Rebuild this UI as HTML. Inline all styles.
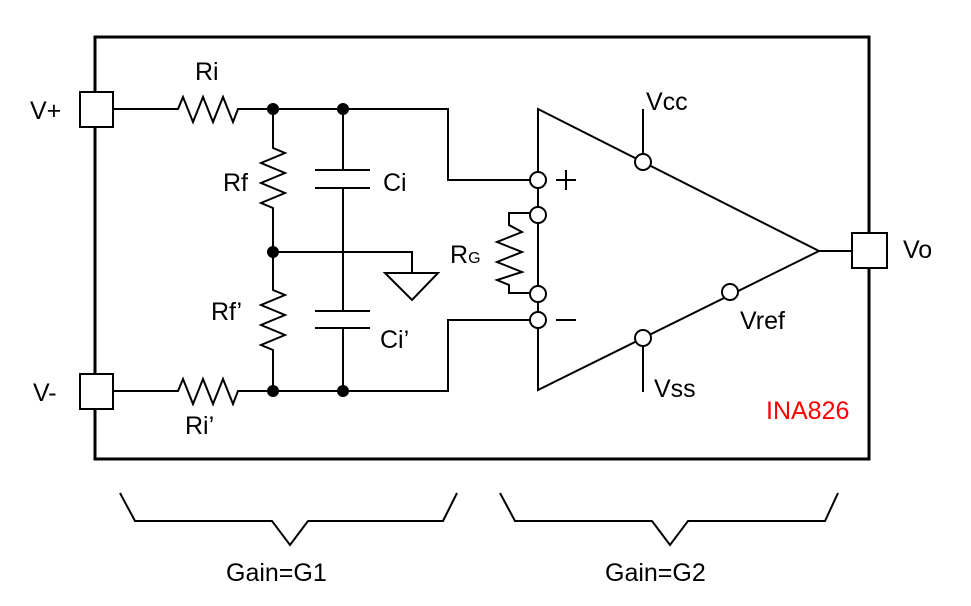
<!DOCTYPE html>
<html><head><meta charset="utf-8"><style>
html,body{margin:0;padding:0;background:#fff;}
svg{display:block;}
text{font-family:"Liberation Sans",Arial,sans-serif;font-size:25px;fill:#000;}
</style></head><body>
<svg width="971" height="606" viewBox="0 0 971 606" xmlns="http://www.w3.org/2000/svg">
<g fill="none" stroke="#000" stroke-width="2">
<rect x="95" y="37" width="774" height="422" stroke-width="3"/>
<rect x="80" y="92" width="33" height="35" fill="#fff"/>
<rect x="80" y="374" width="33" height="35" fill="#fff"/>
<rect x="852" y="233" width="35" height="35" fill="#fff"/>
<polyline points="113,109 178,109 183,97 193,122 203,97 213,122 223,97 233,122 238,109 448,109 448,180 530,180"/>
<polyline points="113,391 178,391 183,379 193,404 203,379 213,404 223,379 233,404 238,391 448,391 448,320 530,320"/>
<polyline points="273,109 273,148 285,153 261,163 285,173 261,183 285,193 261,203 273,208 273,290 285,295 261,305 285,315 261,325 285,335 261,345 273,350 273,391"/>
<line x1="343" y1="109" x2="343" y2="170"/>
<line x1="315" y1="170" x2="370" y2="170"/>
<line x1="315" y1="188" x2="370" y2="188"/>
<line x1="343" y1="188" x2="343" y2="311"/>
<line x1="315" y1="311" x2="370" y2="311"/>
<line x1="315" y1="328" x2="370" y2="328"/>
<line x1="343" y1="328" x2="343" y2="391"/>
<polyline points="273,252 412,252 412,273"/>
<polygon points="385,273 438,273 412,300"/>
<polygon points="538,109 819,251 538,390"/>
<line x1="819" y1="251" x2="852" y2="251"/>
<polyline points="530,213 509,213 509,225 522,232 497,242 522,252 497,262 522,272 497,280 509,285 509,293 530,293"/>
<line x1="643" y1="109" x2="643" y2="154"/>
<line x1="643" y1="346" x2="643" y2="392"/>
<polyline points="120,493 135,521 272,521 290,545 308,521 443,521 457,493"/>
<polyline points="500,493 515,521 652,521 670,545 688,521 825,521 838,493"/>
</g>
<g fill="#fff" stroke="#000" stroke-width="2">
<circle cx="538" cy="180" r="8"/>
<circle cx="538" cy="215" r="8"/>
<circle cx="538" cy="294" r="8"/>
<circle cx="538" cy="320" r="8"/>
<circle cx="643" cy="162" r="8"/>
<circle cx="643" cy="338" r="8"/>
<circle cx="730" cy="292" r="8"/>
</g>
<g fill="#000">
<circle cx="273" cy="109" r="6"/>
<circle cx="343" cy="109" r="6"/>
<circle cx="273" cy="252" r="6"/>
<circle cx="273" cy="391" r="6"/>
<circle cx="343" cy="391" r="6"/>
</g>
<g stroke="#000" stroke-width="2">
<line x1="556" y1="180" x2="576" y2="180"/><line x1="566" y1="170" x2="566" y2="190"/>
<line x1="556" y1="320" x2="576" y2="320"/>
</g>
<text x="195" y="80">Ri</text>
<text x="30" y="119">V+</text>
<text x="33" y="401">V-</text>
<text x="185" y="434">Ri’</text>
<text x="223" y="191">Rf</text>
<text x="211" y="320">Rf’</text>
<text x="383" y="191">Ci</text>
<text x="380" y="348">Ci’</text>
<text x="450" y="263">R<tspan font-size="16">G</tspan></text>
<text x="646" y="110">Vcc</text>
<text x="740" y="329">Vref</text>
<text x="654" y="397">Vss</text>
<text x="903" y="258">Vo</text>
<text x="766" y="419" style="fill:#ff0000">INA826</text>
<text x="226" y="581">Gain=G1</text>
<text x="605" y="581">Gain=G2</text>
</svg>
</body></html>
